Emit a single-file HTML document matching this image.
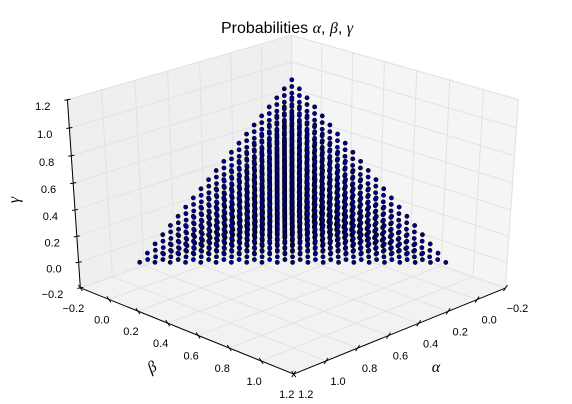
<!DOCTYPE html>
<html><head><meta charset="utf-8"><style>
body{margin:0;background:#fff}
svg{display:block;font-family:"Liberation Sans",sans-serif}
</style></head><body>
<svg id="chart" width="572" height="404" viewBox="0 0 572 404">
<rect width="572" height="404" fill="#fff"/>
<g id="panes"></g><g id="grid"></g><g id="axes"></g><g id="dots"></g><g id="labels"></g>
<text x="287" y="33" text-anchor="middle" font-size="16">Probabilities <tspan font-family="'Liberation Serif',serif" font-style="italic">α</tspan>, <tspan font-family="'Liberation Serif',serif" font-style="italic">β</tspan>, <tspan font-family="'Liberation Serif',serif" font-style="italic">γ</tspan></text>
</svg>
<script>
const gridLevels = [0,0.05,0.1,0.15,0.2,0.25,0.3,0.35,0.4,0.45,0.5,0.55,0.6,0.65,0.7,0.75,0.8,0.85,0.9,0.95,1];
const tickValues = [-0.2,0,0.2,0.4,0.6,0.8,1.0,1.2];
const tickLabels = ["−0.2","0.0","0.2","0.4","0.6","0.8","1.0","1.2"];
const axisMin = -0.2, axisMax = 1.2;

// camera calibration (world -> screen correspondences)
const calib = [
 [[1,0,0],[144,260]],[[0,1,0],[443,260]],[[0,0,1],[293,80]],
 [[1.2,-0.2,-0.2],[78,290]],[[1.2,-0.2,1.2],[67,100]],
 [[-0.2,1.2,-0.2],[507,290]],[[-0.2,1.2,1.2],[519,100]],
 [[1.2,1.2,-0.2],[293,374]],[[-0.2,-0.2,1.2],[290,35]]
];
function solve(A,b){const n=b.length;for(let i=0;i<n;i++){let m=i;for(let r=i+1;r<n;r++)if(Math.abs(A[r][i])>Math.abs(A[m][i]))m=r;[A[i],A[m]]=[A[m],A[i]];[b[i],b[m]]=[b[m],b[i]];for(let r=0;r<n;r++){if(r===i)continue;const f=A[r][i]/A[i][i];for(let c=i;c<n;c++)A[r][c]-=f*A[i][c];b[r]-=f*b[i];}}return b.map((v,i)=>v/A[i][i]);}
const rows=[],rhs=[];
calib.forEach(([w,s])=>{const[X,Y,Z]=w,[u,v]=s;
 rows.push([X,Y,Z,1,0,0,0,0,-u*X,-u*Y,-u*Z]);rhs.push(u);
 rows.push([0,0,0,0,X,Y,Z,1,-v*X,-v*Y,-v*Z]);rhs.push(v);});
const N=[],B=[];for(let i=0;i<11;i++){N.push(new Array(11).fill(0));B.push(0);
 for(let k=0;k<rows.length;k++){for(let j=0;j<11;j++)N[i][j]+=rows[k][i]*rows[k][j];B[i]+=rows[k][i]*rhs[k];}}
const p=solve(N,B);
function proj(a,b,g){const w=p[8]*a+p[9]*b+p[10]*g+1;return[(p[0]*a+p[1]*b+p[2]*g+p[3])/w,(p[4]*a+p[5]*b+p[6]*g+p[7])/w];}
const NS='http://www.w3.org/2000/svg';
function mk(tag,attrs,parent){const e=document.createElementNS(NS,tag);for(const k in attrs)e.setAttribute(k,attrs[k]);document.getElementById(parent).appendChild(e);return e;}
function poly(pts){return pts.map(q=>q.join(',')).join(' ');}
const lo=axisMin,hi=axisMax;
let e;
e=mk('polygon',{points:poly([proj(lo,lo,lo),proj(hi,lo,lo),proj(hi,lo,hi),proj(lo,lo,hi)]),fill:'#efefef',stroke:'#e8e8e8'},'panes');


e=mk('polygon',{points:poly([proj(lo,lo,lo),proj(lo,hi,lo),proj(lo,hi,hi),proj(lo,lo,hi)]),fill:'#f5f5f5',stroke:'#ececec'},'panes');


e=mk('polygon',{points:poly([proj(lo,lo,lo),proj(hi,lo,lo),proj(hi,hi,lo),proj(lo,hi,lo)]),fill:'#f2f2f2',stroke:'#eaeaea'},'panes');


function line(a,b,parent,stroke,w,name){const l=mk('line',{x1:a[0],y1:a[1],x2:b[0],y2:b[1],stroke:stroke,'stroke-width':w},parent);
 
 
 return l;}
tickValues.forEach(t=>{
 line(proj(t,lo,lo),proj(t,lo,hi),'grid','#e2e2e2',1,'grid-line');
 line(proj(hi,lo,t),proj(lo,lo,t),'grid','#e2e2e2',1,'grid-line');
 line(proj(lo,lo,t),proj(lo,hi,t),'grid','#e2e2e2',1,'grid-line');
 line(proj(lo,t,lo),proj(lo,t,hi),'grid','#e2e2e2',1,'grid-line');
 line(proj(t,lo,lo),proj(t,hi,lo),'grid','#e2e2e2',1,'grid-line');
 line(proj(lo,t,lo),proj(hi,t,lo),'grid','#e2e2e2',1,'grid-line');
});
line(proj(hi,lo,lo),proj(hi,lo,hi),'axes','#000',1,'gamma-axis-line');
line(proj(hi,lo,lo),proj(hi,hi,lo),'axes','#000',1,'beta-axis-line');
line(proj(lo,hi,lo),proj(hi,hi,lo),'axes','#000',1,'alpha-axis-line');
function txt(x,y,s,anchor,name,size){const t=mk('text',{x:x,y:y,'text-anchor':anchor,'font-size':size||11,fill:'#000'},'labels');t.textContent=s;
 
 
 return t;}
tickValues.forEach((t,i)=>{
 let a=proj(hi,lo,t);line([a[0]-3,a[1]+0.5],[a[0]+3,a[1]-0.5],'axes','#000',1,'gamma-tick');
 txt(a[0]-17,a[1]+10,tickLabels[i],'end','gamma-tick-label');
 a=proj(hi,t,lo);line([a[0]-2,a[1]-3],[a[0]+2,a[1]+3],'axes','#000',1,'beta-tick');
 txt(a[0]-7,a[1]+24,tickLabels[i],'middle','beta-tick-label');
 a=proj(t,hi,lo);line([a[0]-2,a[1]+3],[a[0]+2,a[1]-3],'axes','#000',1,'alpha-tick');
 txt(a[0]+12,a[1]+24,tickLabels[i],'middle','alpha-tick-label');
});
let t;
t=txt(436,372,'α','middle','alpha-axis-title',16);t.setAttribute('font-family',"'Liberation Serif',serif");t.setAttribute('font-style','italic');
t=txt(152,372,'β','middle','beta-axis-title',16);t.setAttribute('font-family',"'Liberation Serif',serif");t.setAttribute('font-style','italic');t.setAttribute('transform','rotate(-30 152 367)');
t=txt(14,205,'γ','middle','gamma-axis-title',16);t.setAttribute('font-family',"'Liberation Serif',serif");t.setAttribute('font-style','italic');t.setAttribute('transform','rotate(-90 14 200)');
// data points: all grid triples with alpha+beta+gamma <= 1
const pts=[];
const L=gridLevels.length-1;
gridLevels.forEach((a,i)=>{gridLevels.forEach((b,j)=>{gridLevels.forEach((g,k)=>{if(i+j+k<=L)pts.push([a,b,g]);});});});
pts.sort((u,v)=>(u[0]+u[1]+0.3*u[2])-(v[0]+v[1]+0.3*v[2]));
pts.forEach(q=>{const s=proj(q[0],q[1],q[2]);
 const c=mk('circle',{cx:s[0].toFixed(2),cy:s[1].toFixed(2),r:2.1,fill:'#000090',stroke:'#000','stroke-width':0.6},'dots');
 
 
});
</script>
</body></html>
